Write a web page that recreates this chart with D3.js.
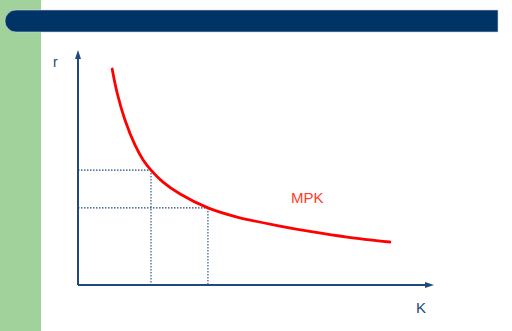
<!DOCTYPE html>
<html>
<head>
<meta charset="utf-8">
<script src="https://cdn.jsdelivr.net/npm/d3@7"></script>
<style>
  html, body { margin: 0; padding: 0; background: #ffffff; }
  svg { display: block; }
</style>
</head>
<body>
<svg id="chart" width="512" height="331"></svg>
<script>
// Marginal product of capital curve (K on the horizontal axis, r on the vertical)
const capital = [9.6, 11.0, 13.2, 16.0, 18.3, 20.5, 23.9, 28.7, 36.5, 44.7, 56.7, 66.0, 75.6, 87.6];
const mpk     = [91.9, 81.7, 70.2, 59.6, 53.2, 48.9, 43.8, 38.7, 32.8, 28.9, 25.1, 22.6, 20.4, 18.3];

// Two marked points on the curve, projected onto both axes
const guideK = [20.5, 36.5];
const guideR = [48.9, 32.8];

const axisLabels = { x: "K", y: "r" };
const curveLabel = "MPK";

const svg = d3.select("#chart");
const W = 512, H = 331;

const navy = "#003366";
const axisColor = "#21497a";

// Slide decoration: green side strip and title bar
svg.append("rect").attr("x", 0).attr("y", 0).attr("width", 41).attr("height", H)
  .attr("fill", "#a2d29c");
svg.append("path")
  .attr("d", "M16,10 H498 V32 H16 A11,11 0 0 1 16,10 Z")
  .attr("fill", navy)
  .attr("stroke", "#c9d5e4").attr("stroke-width", 0.6);

// Scales
const x = d3.scaleLinear().domain([0, 100]).range([78, 434]);
const y = d3.scaleLinear().domain([0, 100]).range([285, 50]);

// Dotted guide lines
const guides = svg.append("g")
  .attr("stroke", axisColor).attr("stroke-width", 1.1)
  .attr("stroke-dasharray", "1.5,1.5").attr("fill", "none");
guideK.forEach((k, i) => {
  guides.append("line")
    .attr("x1", x(0)).attr("y1", y(guideR[i]))
    .attr("x2", x(k)).attr("y2", y(guideR[i]));
  guides.append("line")
    .attr("x1", x(k)).attr("y1", y(guideR[i]))
    .attr("x2", x(k)).attr("y2", y(0));
});

// Axes with arrowheads
const axes = svg.append("g").attr("stroke", axisColor).attr("stroke-width", 2);
axes.append("line").attr("x1", x(0)).attr("y1", y(0)).attr("x2", x(100) - 4).attr("y2", y(0));
axes.append("line").attr("x1", x(0)).attr("y1", y(0)).attr("x2", x(0)).attr("y2", y(100) + 4);
svg.append("path")
  .attr("d", `M${x(100)},${y(0)} L${x(100) - 9},${y(0) - 3} L${x(100) - 9},${y(0) + 3} Z`)
  .attr("fill", axisColor);
svg.append("path")
  .attr("d", `M${x(0)},${y(100)} L${x(0) - 3},${y(100) + 9} L${x(0) + 3},${y(100) + 9} Z`)
  .attr("fill", axisColor);

// MPK curve
const pts = capital.map((k, i) => [k, mpk[i]]);
const line = d3.line()
  .x(d => x(d[0])).y(d => y(d[1]))
  .curve(d3.curveCatmullRom.alpha(0.5));
svg.append("path")
  .datum(pts)
  .attr("d", line)
  .attr("fill", "none")
  .attr("stroke", "#ff0000")
  .attr("stroke-width", 2.8)
  .attr("stroke-linecap", "round");

// Labels
const font = "'Liberation Sans', Arial, sans-serif";
svg.append("text").attr("x", 53).attr("y", 67)
  .attr("font-family", font).attr("font-size", 14).attr("fill", axisColor)
  .text(axisLabels.y);
svg.append("text").attr("x", 416).attr("y", 313)
  .attr("font-family", font).attr("font-size", 15).attr("fill", axisColor)
  .text(axisLabels.x);
svg.append("text").attr("x", 291).attr("y", 203)
  .attr("font-family", font).attr("font-size", 15).attr("fill", "#ff3d1f")
  .text(curveLabel);
</script>
</body>
</html>
